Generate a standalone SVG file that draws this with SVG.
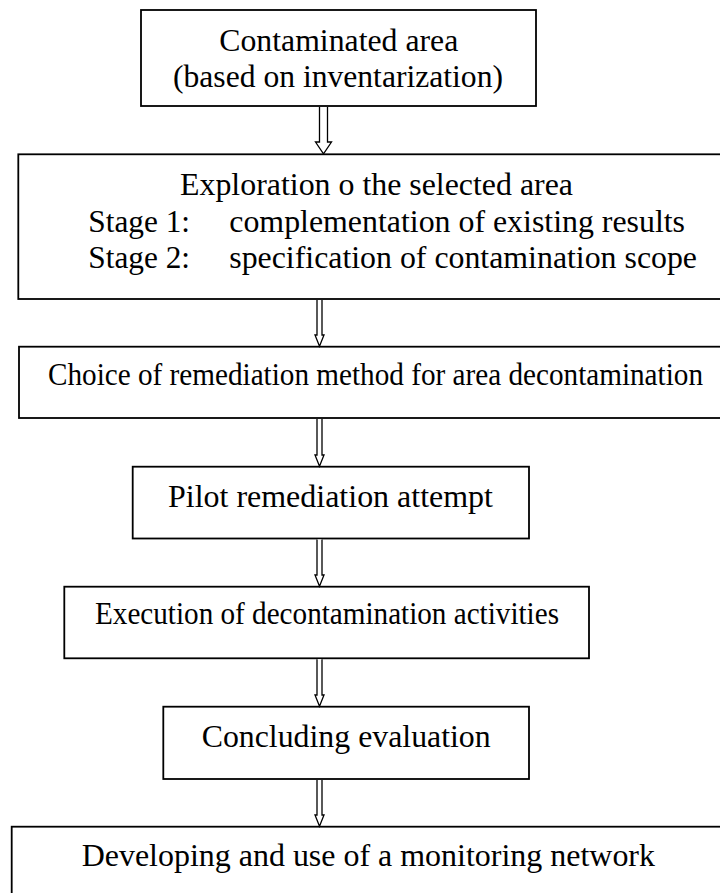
<svg xmlns="http://www.w3.org/2000/svg" width="720" height="893" viewBox="0 0 720 893">
<style>
.box{fill:#fff;stroke:#000;stroke-width:1.8}
.t{font-family:'Liberation Serif','Times New Roman',serif;font-size:30.5px;fill:#000}
.arr{fill:#fff;stroke:#000;stroke-width:1.3;stroke-linejoin:miter}
</style>
<rect width="720" height="893" fill="#fff"/>
<g id="n1">
<rect class="box" x="141" y="10" width="395" height="96"/>
<text class="t" x="219.3" y="51" textLength="239" lengthAdjust="spacingAndGlyphs">Contaminated area</text>
<text class="t" x="173" y="87" textLength="330" lengthAdjust="spacingAndGlyphs">(based on inventarization)</text>
</g>
<g id="n2">
<rect class="box" x="18.3" y="154.3" width="710" height="144.7"/>
<text class="t" x="180" y="195" textLength="393" lengthAdjust="spacingAndGlyphs">Exploration o the selected area</text>
<text class="t" x="88.3" y="231.7" textLength="101.7" lengthAdjust="spacingAndGlyphs">Stage 1:</text>
<text class="t" x="229.3" y="231.7" textLength="455.7" lengthAdjust="spacingAndGlyphs">complementation of existing results</text>
<text class="t" x="88.3" y="268" textLength="101.7" lengthAdjust="spacingAndGlyphs">Stage 2:</text>
<text class="t" x="229.3" y="268" textLength="467.7" lengthAdjust="spacingAndGlyphs">specification of contamination scope</text>
</g>
<g id="n3">
<rect class="box" x="19" y="346.7" width="710" height="71.3"/>
<text class="t" x="48" y="385" textLength="655" lengthAdjust="spacingAndGlyphs">Choice of remediation method for area decontamination</text>
</g>
<g id="n4">
<rect class="box" x="132.7" y="466.7" width="396.3" height="71.8"/>
<text class="t" x="168" y="506.7" textLength="325" lengthAdjust="spacingAndGlyphs">Pilot remediation attempt</text>
</g>
<g id="n5">
<rect class="box" x="64.3" y="586.7" width="524.7" height="71.6"/>
<text class="t" x="95" y="624" textLength="464" lengthAdjust="spacingAndGlyphs">Execution of decontamination activities</text>
</g>
<g id="n6">
<rect class="box" x="163.3" y="706.7" width="365.7" height="72.3"/>
<text class="t" x="201.7" y="746.7" textLength="289" lengthAdjust="spacingAndGlyphs">Concluding evaluation</text>
</g>
<g id="n7">
<rect class="box" x="11.7" y="826.7" width="720" height="80"/>
<text class="t" x="81.7" y="866" textLength="573.3" lengthAdjust="spacingAndGlyphs">Developing and use of a monitoring network</text>
</g>
<g id="connectors">
<path class="arr" d="M319.5,106.9 V142 H315.5 L323.5,153.8 L331.5,142 H327.5 V106.9"/>
<path class="arr" d="M317,299.9 V335 H315 L319.5,346.2 L324,335 H322 V299.9"/>
<path class="arr" d="M317,418.9 V455 H315 L319.5,466.2 L324,455 H322 V418.9"/>
<path class="arr" d="M317,539.4 V575 H315 L319.5,586.2 L324,575 H322 V539.4"/>
<path class="arr" d="M317,659.2 V695 H315 L319.5,706.2 L324,695 H322 V659.2"/>
<path class="arr" d="M317,779.9 V815 H315 L319.5,826.2 L324,815 H322 V779.9"/>
</g>
</svg>
